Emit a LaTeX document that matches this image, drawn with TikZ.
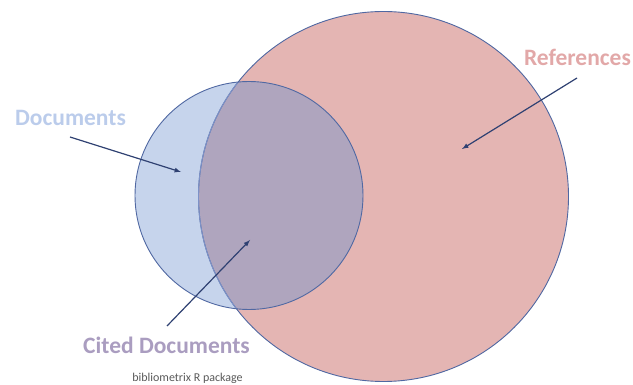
\documentclass[tikz,border=0pt]{standalone}
\usepackage{fontspec}
\setmainfont{Carlito}
\usepackage{tikz}
\usetikzlibrary{arrows}
\usetikzlibrary{positioning}

\definecolor{refpink}{RGB}{228,181,179}
\definecolor{docblue}{RGB}{198,212,236}
\definecolor{citedlilac}{RGB}{175,165,190}
\definecolor{edgeblue}{RGB}{80,104,162}
\definecolor{edgelight}{RGB}{125,146,200}
\definecolor{arrownavy}{RGB}{47,65,114}
\definecolor{doctext}{RGB}{187,204,235}
\definecolor{reftext}{RGB}{226,168,168}
\definecolor{citedtext}{RGB}{170,157,192}
\definecolor{credittext}{RGB}{89,89,89}

\begin{document}
\begin{tikzpicture}[
	x=1pt, y=-1pt,
  > = latex,
  setedge/.style = {draw=edgeblue,line width=0.9pt},
  setname/.style = {font=\fontsize{23.5}{27}\selectfont\bfseries,inner sep=0pt},
  pointer/.style = {->,draw=arrownavy,line width=1.2pt}
  ]
	\useasboundingbox (0,0) rectangle (633,385);

	\coordinate (@ref) at (383.5,196.5);
	\coordinate (@doc) at (249,195.5);

	% the two sets and their overlap
	\fill[refpink] (@ref) circle (185pt);
	\fill[docblue] (@doc) circle (114pt);
	\begin{scope}
		\clip (@ref) circle (185pt);
		\fill[citedlilac] (@doc) circle (114pt);
	\end{scope}
	\draw[setedge] (@ref) circle (185pt);
	\begin{scope}
		\clip (@doc) circle (114pt);
		\draw[draw=edgelight,line width=0.9pt] (@ref) circle (185pt);
	\end{scope}
	\draw[setedge] (@doc) circle (114pt);

	\node[setname,text=doctext] (documents) at (70.5,118) {Documents};
	\node[setname,text=reftext] (references) at (577.5,57) {References};
	\node[setname,text=citedtext] (cited) at (166.5,345) {Cited Documents};
	\node[inner sep=0pt,text=credittext,font=\fontsize{12}{14}\selectfont] (credit) at (187.5,378) {bibliometrix R package};

	\coordinate (@docTail) at (70,137);
	\coordinate (@docHead) at (181,172);
	\coordinate (@refTail) at (577,78);
	\coordinate (@refHead) at (462,149);
	\coordinate (@citedTail) at (167,326);
	\coordinate (@citedHead) at (250,240);

	\draw[pointer] (@docTail) to (@docHead);
	\draw[pointer] (@refTail) to (@refHead);
	\draw[pointer] (@citedTail) to (@citedHead);

\end{tikzpicture}
\end{document}
